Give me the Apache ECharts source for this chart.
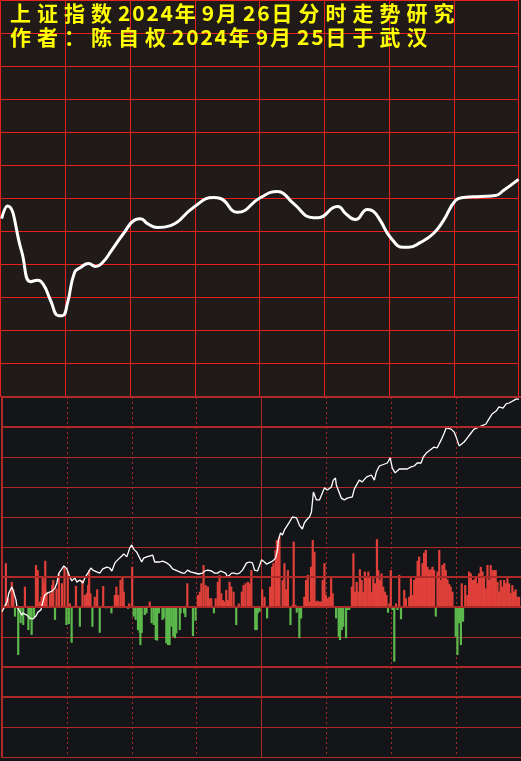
<!DOCTYPE html>
<html>
<head>
<meta charset="utf-8">
<script src="https://cdn.jsdelivr.net/npm/echarts@6/dist/echarts.min.js"></script>
<style>html,body{margin:0;padding:0;background:#141518;}#c{width:521px;height:761px;}</style>
</head>
<body>
<div id="c"></div>
<script>
// ---------- DATA ----------
const titleLines = ['上证指数2024年9月26日分时走势研究', '作者：陈自权2024年9月25日于武汉'];

// upper panel: projected curve [minute, grid units]
const topCurve = [
  [0.5,5.39],[3.2,5.77],[9.7,4.42],[13.9,3.48],[17.1,3.52],[19.9,3.39],[23.2,2.91],[26.9,2.45],
  [28.7,2.45],[31.0,2.82],[34.3,3.76],[37.1,3.91],[40.8,4.03],[44.0,3.94],[47.3,4.06],[51.4,4.42],
  [57.0,4.94],[62.5,5.36],[64.9,5.39],[68.1,5.24],[72.7,5.12],[78.8,5.18],[89.4,5.73],[98.7,6.03],
  [101.9,6.0],[109.8,5.58],[120.5,6.03],[128.3,6.21],[131.1,6.15],[135.7,5.85],[145.0,5.42],[147.3,5.42],
  [156.1,5.76],[157.5,5.73],[159.8,5.55],[164.5,5.36],[170.0,5.67],[172.8,5.61],[176.0,5.33],[180.7,4.82],
  [186.7,4.52],[189.0,4.52],[194.6,4.67],[200.6,4.94],[205.2,5.33],[210.8,5.94],[214.5,6.03],[222.4,6.06],
  [229.3,6.09],[233.0,6.24],[240.0,6.58]
];

// lower panel: intraday price line [minute, grid units]
const priceLine = [
  [0,-0.16],[0.9,-0.03],[2.3,0.17],[3.2,0.47],[4.6,0.67],[5.1,0.7],[5.5,0.47],[6.5,0.23],[6.9,0],[7.8,-0.1],
  [9.2,-0.27],[9.7,-0.2],[11.5,-0.27],[12.9,-0.37],[14.3,-0.4],[15.7,-0.3],[16.6,-0.17],[18.0,-0.1],[18.9,0.17],
  [19.8,0.4],[21.2,0.47],[23.1,0.53],[24.5,0.63],[25.4,0.8],[26.3,1.13],[27.7,1.27],[28.6,1.37],[30.0,1.27],
  [31.4,1.0],[32.3,0.87],[33.7,0.97],[34.6,0.83],[36.0,0.9],[37.4,0.8],[38.3,0.97],[39.7,1.13],[41.1,1.3],
  [42.0,1.23],[43.8,1.17],[45.2,1.13],[46.6,1.27],[48.5,1.33],[49.8,1.3],[50.8,1.2],[52.2,1.47],[53.5,1.57],
  [55.4,1.7],[56.3,1.77],[57.7,1.67],[59.1,1.97],[60.0,2.07],[60.9,1.93],[62.3,1.83],[63.2,1.8],[64.6,1.5],
  [65.5,1.63],[66.9,1.67],[67.8,1.63],[69.7,1.73],[70.6,1.5],[71.5,1.47],[72.9,1.5],[74.3,1.53],[76.2,1.47],
  [77.5,1.4],[78.9,1.27],[79.8,1.23],[83.5,1.13],[84.5,1.13],[85.8,1.23],[87.2,1.17],[90.9,1.1],[92.8,1.13],
  [93.7,1.2],[95.1,1.23],[96.9,1.2],[98.3,1.13],[99.7,1.13],[101.1,1.2],[102.0,1.2],[103.4,1.13],[104.3,1.0],
  [106.2,1.13],[107.5,1.13],[108.5,1.1],[109.8,1.13],[111.2,1.23],[113.1,1.47],[114.5,1.5],[115.8,1.47],
  [116.8,1.23],[118.2,1.2],[120.0,1.57],[121.4,1.5],[122.3,1.43],[123.2,1.47],[125.1,1.53],[126.5,1.63],
  [127.4,1.9],[127.8,2.23],[128.8,2.47],[129.7,2.4],[130.6,2.57],[131.5,2.67],[132.9,2.83],[134.3,3.0],
  [136.2,2.97],[137.5,2.73],[138.9,2.6],[139.8,2.8],[140.8,2.9],[142.2,3.0],[143.1,3.17],[144.0,3.83],
  [145.4,3.57],[146.8,3.57],[149.1,3.97],[150.5,3.9],[152.3,4.0],[153.2,4.23],[154.2,4.3],[154.6,4.07],
  [156.9,3.63],[158.3,3.57],[159.7,3.63],[162.0,3.67],[162.9,3.93],[165.2,4.23],[166.6,4.17],[168.5,4.33],
  [170.8,4.4],[172.2,4.23],[173.1,4.5],[174.5,4.7],[178.2,4.8],[179.5,4.97],[180.5,4.63],[181.8,4.47],
  [183.7,4.6],[185.1,4.6],[187.4,4.6],[189.2,4.67],[190.6,4.7],[192.0,4.8],[193.8,4.8],[194.8,5.0],
  [196.2,5.13],[198.0,5.23],[199.8,5.33],[201.2,5.3],[203.1,5.57],[204.5,5.8],[205.4,5.97],[207.7,5.93],
  [209.1,5.83],[210.0,5.67],[211.4,5.37],[212.3,5.33],[213.7,5.5],[215.1,5.63],[216.9,5.8],[218.3,5.93],
  [219.7,5.97],[221.5,6.03],[223.8,6.1],[225.2,6.27],[226.6,6.43],[228.5,6.53],[229.8,6.67],[231.7,6.63],
  [233.1,6.77],[234.5,6.8],[237.7,6.93],[239.1,6.93]
];

// lower panel: money-flow bars [minute, grid units] (positive red, negative green)
const flowBars = [
  [1.8,1.46],[2.9,0.29],[4.5,0.84],[5.2,0.59],[6.0,-0.32],[7.5,-1.6],[8.6,-0.54],[9.8,-0.6],[10.6,0.68],
  [12.2,-0.77],[12.9,-0.43],[13.7,-0.93],[14.8,-0.34],[15.7,1.4],[16.5,1.23],[17.5,0.18],[18.3,0.34],
  [18.8,1.0],[19.4,0.79],[20.0,1.54],[20.6,0.51],[22.2,0.46],[23.2,0.73],[23.7,0.9],[24.5,-0.43],
  [25.2,0.62],[26.3,1.12],[27.7,0.79],[28.9,1.34],[29.8,-0.6],[30.4,1.18],[30.9,-0.57],[31.4,0.12],
  [32.2,-1.19],[34.2,0.7],[36.0,-0.66],[37.2,0.9],[38.3,0.4],[39.2,0.46],[39.8,0.73],[40.3,1.23],
  [40.9,0.46],[41.8,-0.66],[42.9,0.34],[44.0,0.59],[45.2,-0.86],[46.8,0.7],[48.0,-0.04],[48.6,-0.04],
  [50.6,-0.21],[52.2,0.4],[52.9,0.68],[53.7,0.4],[54.8,0.9],[55.7,1.03],[56.3,0.51],[58.3,-0.06],
  [58.8,0.12],[60.2,1.34],[60.9,-0.32],[61.8,-0.43],[62.9,-0.77],[63.7,-0.86],[64.0,-1.27],[64.6,-0.86],
  [66.0,-0.27],[66.8,-0.21],[68.3,0.18],[69.2,-0.54],[70.2,-0.6],[71.1,-1.1],[71.7,-1.12],[72.6,-0.21],
  [74.2,-0.43],[74.8,-0.38],[76.0,-1.21],[76.8,-1.27],[77.5,-1.27],[78.3,-0.66],[79.2,-0.99],[80.0,-1.04],
  [80.6,-0.88],[82.2,-0.77],[82.6,-0.21],[84.2,-0.21],[84.8,-0.34],[85.7,0.79],[88.3,-0.97],[89.5,-0.46],
  [90.6,0.4],[91.5,0.51],[92.2,0.79],[93.2,1.4],[94.2,0.73],[95.2,0.68],[96.0,0.29],[96.8,0.29],
  [98.0,-0.21],[98.8,0.29],[99.8,0.84],[100.6,1.06],[101.4,0.46],[102.2,0.23],[102.9,0.18],[103.7,0.57],
  [104.5,0.23],[105.2,0.84],[106.0,0.68],[107.1,0.51],[108.3,-0.6],[109.5,0.12],[110.9,0.51],[111.7,0.73],
  [112.6,0.79],[113.7,0.84],[114.5,0.79],[115.3,1.23],[117.1,-0.77],[117.8,-0.77],[118.3,-0.21],[119.1,-0.16],
  [120.3,0.59],[121.4,0.34],[122.6,-0.38],[124.0,0.68],[124.9,1.34],[125.5,1.46],[126.5,1.9],[127.1,2.23],
  [127.7,2.07],[128.3,2.34],[129.8,0.9],[130.6,1.46],[131.4,0.59],[132.2,1.23],[133.4,-0.6],[134.5,0.07],
  [134.9,2.18],[135.7,0.07],[136.3,-0.19],[137.5,-1.04],[138.3,-0.38],[139.8,0.34],[140.6,0.9],[141.4,1.07],
  [142.2,0.18],[142.9,1.34],[143.7,2.23],[144.5,1.84],[145.2,0.18],[146.0,0.21],[146.8,0.18],[147.5,0.18],
  [148.3,0.9],[149.1,1.46],[149.8,0.4],[150.6,0.29],[151.4,0.34],[152.2,0.96],[152.9,0.46],[154.5,-0.38],
  [155.7,-0.99],[156.3,-1.1],[157.1,-0.77],[157.8,-0.66],[159.1,-1.04],[159.8,-0.1],[160.6,-0.1],[161.8,0.68],
  [162.5,1.79],[163.2,0.51],[164.0,0.84],[164.9,0.51],[165.5,1.26],[166.3,0.9],[167.1,0.51],[167.8,1.18],
  [168.6,1.01],[169.4,1.18],[170.2,1.01],[170.9,0.51],[171.7,0.96],[172.5,0.79],[173.4,2.26],[174.0,1.23],
  [174.8,0.9],[175.5,1.12],[176.3,0.68],[177.1,0.51],[177.8,0.4],[178.5,-0.19],[179.1,0.12],[179.8,1.23],
  [180.6,-0.1],[181.4,-1.82],[182.2,0.12],[182.9,-0.1],[183.7,1.07],[184.5,-0.41],[186.0,0.57],[186.8,0.29],
  [188.3,0.34],[189.1,0.96],[189.8,0.4],[190.6,0.9],[191.4,0.96],[192.2,1.54],[192.9,1.68],[193.7,1.01],
  [194.5,1.46],[195.2,1.81],[196.0,1.9],[196.8,1.34],[197.5,1.23],[198.3,1.26],[199.1,1.34],[199.8,1.23],
  [200.6,-0.32],[201.4,1.18],[202.2,1.9],[202.9,0.9],[203.7,1.4],[204.5,1.46],[205.2,1.23],[206.0,0.92],
  [206.8,0.77],[207.5,0.68],[208.3,0.51],[209.8,-0.99],[210.6,-1.6],[211.4,-0.54],[212.2,-1.27],[212.6,0.79],
  [213.2,-0.49],[214.2,0.73],[215.2,0.4],[216.0,1.18],[216.8,1.12],[217.5,0.9],[218.3,0.92],[219.1,1.01],
  [219.8,0.79],[220.6,1.12],[221.4,1.34],[222.2,1.18],[222.9,1.01],[223.7,0.62],[224.5,1.4],[225.2,0.9],
  [226.0,1.4],[226.8,1.23],[227.5,1.23],[228.3,1.23],[229.1,0.84],[229.8,0.51],[230.6,0.9],[231.4,0.68],
  [232.2,0.9],[232.9,0.79],[233.7,0.96],[234.5,0.79],[235.2,0.46],[236.0,0.73],[236.8,0.51],[237.5,0.59],
  [238.3,0.34],[239.1,0.34]
];

const thickLevels = [7, 6, 1, 0, -2, -3];
const topRows = [0,1,2,3,4,5,6,7,8,9,10,11,12];
const topCols = [0,30,60,90,120,150,180,210,240];

// ---------- CHART ----------
const BROWN = '#201a18', DARK = '#141518';
const TOPRED = '#e6201c', LOWRED = '#ad2a28';
const RED = '#e0403a', GREEN = '#5cb84c';

const graphics = [];
const lineY = [13, 37.5];
titleLines.forEach((line, li) => {
  let x = 10;
  for (const ch of line) {
    const isDigit = /[0-9]/.test(ch);
    graphics.push({
      type: 'text', x: x, y: lineY[li], z: 100,
      style: { text: ch, fill: '#ffff00', font: 'bold 21px "Noto Sans CJK SC"', align: 'left', verticalAlign: 'middle' }
    });
    x += isDigit ? 14.2 : 27;
  }
});

const hidden = { axisLine: { show: false }, axisTick: { show: false }, axisLabel: { show: false } };
const chart = echarts.init(document.getElementById('c'), null, { renderer: 'canvas' });
chart.setOption({
  animation: false,
  backgroundColor: {
    type: 'linear', x: 0, y: 0, x2: 0, y2: 1,
    colorStops: [
      { offset: 0, color: BROWN }, { offset: 396 / 761, color: BROWN },
      { offset: 396 / 761, color: DARK }, { offset: 1, color: DARK }
    ]
  },
  graphic: graphics,
  grid: [
    { left: 0.5, top: 0.5, width: 518, height: 396, containLabel: false },
    { left: 2, top: 397, width: 520, height: 360, containLabel: false }
  ],
  xAxis: [
    Object.assign({ gridIndex: 0, type: 'value', min: 0, max: 240, interval: 30, splitLine: { show: false } }, hidden),
    Object.assign({ gridIndex: 1, type: 'value', min: 0, max: 240, interval: 30,
      splitLine: { show: true, lineStyle: { color: LOWRED, width: 1, type: [2, 3] } } }, hidden),
    Object.assign({ gridIndex: 1, type: 'value', position: 'top', min: 0, max: 240, interval: 120,
      splitLine: { show: true, lineStyle: { color: LOWRED, width: 1 } } }, hidden)
  ],
  yAxis: [
    Object.assign({ gridIndex: 0, type: 'value', min: 0, max: 12, interval: 1, splitLine: { show: false } }, hidden),
    { gridIndex: 1, type: 'value', min: -5, max: 7, interval: 1,
      axisLine: { show: true, onZero: false, lineStyle: { color: LOWRED, width: 2 } },
      axisTick: { show: false }, axisLabel: { show: false },
      splitLine: { show: true, lineStyle: { color: LOWRED, width: 1 } } }
  ],
  series: [
    { type: 'line', xAxisIndex: 0, yAxisIndex: 0, data: [], z: 1, silent: true,
      markLine: { silent: true, symbol: 'none', label: { show: false }, animation: false,
        lineStyle: { color: TOPRED, width: 1, type: 'solid', opacity: 1 },
        emphasis: { disabled: true },
        data: topRows.map(v => ({ yAxis: v })).concat(topCols.map(v => ({ xAxis: v }))) } },
    { type: 'line', xAxisIndex: 0, yAxisIndex: 0, data: topCurve, smooth: 0.5, symbol: 'none',
      lineStyle: { color: '#ffffff', width: 3 }, z: 5 },
    { type: 'bar', xAxisIndex: 1, yAxisIndex: 1, data: flowBars, barWidth: 2.2, z: 3,
      itemStyle: { color: p => (p.value[1] >= 0 ? RED : GREEN) } },
    { type: 'line', xAxisIndex: 1, yAxisIndex: 1, data: priceLine, symbol: 'none',
      lineStyle: { color: '#ffffff', width: 1.3 }, z: 4,
      markLine: { silent: true, symbol: 'none', label: { show: false },
        lineStyle: { color: LOWRED, width: 2, type: 'solid' },
        data: thickLevels.map(v => ({ yAxis: v })) } }
  ]
});
</script>
</body>
</html>
